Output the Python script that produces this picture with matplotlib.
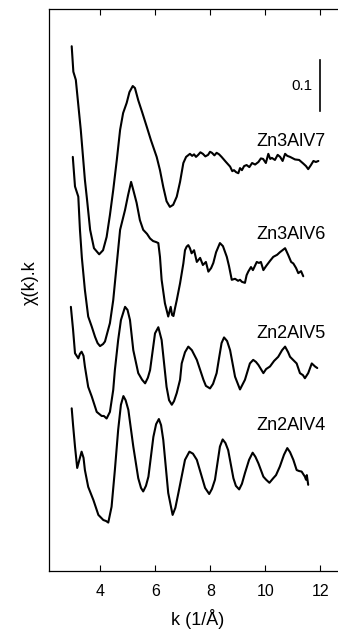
import numpy as np
import matplotlib
matplotlib.use('Agg')
import matplotlib.pyplot as plt

plt.rcParams['font.family'] = ['Liberation Sans', 'DejaVu Sans']

# k (1/A) and chi(k).k for each sample (relative to each trace's baseline)
k_v7 = [2.96, 3.02, 3.11, 3.29, 3.44, 3.52, 3.63, 3.77, 3.96, 4.10, 4.23, 4.35, 4.47, 4.60,
        4.72, 4.83, 4.96, 5.06, 5.18, 5.26, 5.38, 5.52, 5.69, 5.84, 6.05, 6.17, 6.29, 6.41,
        6.53, 6.65, 6.78, 6.90, 7.02, 7.12, 7.26, 7.34, 7.41, 7.48, 7.56, 7.64, 7.73, 7.82,
        7.92, 7.99, 8.06, 8.15, 8.23, 8.32, 8.41, 8.57, 8.72, 8.80, 8.86, 8.94, 9.02, 9.08,
        9.15, 9.23, 9.32, 9.42, 9.52, 9.63, 9.75, 9.84, 9.92, 10.02, 10.11, 10.18, 10.24,
        10.35, 10.45, 10.54, 10.63, 10.72, 10.80, 10.90, 11.08, 11.23, 11.38, 11.48, 11.56,
        11.66, 11.75, 11.84, 11.93]
chi_v7 = [0.233, 0.183, 0.167, 0.069, -0.029, -0.069, -0.127, -0.163, -0.175, -0.167, -0.141,
          -0.098, -0.049, 0.010, 0.069, 0.102, 0.122, 0.143, 0.155, 0.151, 0.127, 0.104, 0.075,
          0.049, 0.016, -0.010, -0.043, -0.071, -0.082, -0.078, -0.062, -0.033, 0.004, 0.016,
          0.022, 0.018, 0.021, 0.016, 0.020, 0.025, 0.022, 0.017, 0.020, 0.026, 0.024, 0.019,
          0.024, 0.021, 0.016, 0.006, -0.003, -0.012, -0.010, -0.014, -0.016, -0.006, -0.010,
          -0.002, 0.000, -0.004, 0.004, 0.001, 0.006, 0.013, 0.012, 0.004, 0.022, 0.012, 0.014,
          0.010, 0.020, 0.016, 0.008, 0.022, 0.018, 0.016, 0.011, 0.010, 0.003, -0.002, -0.008,
          0.000, 0.008, 0.006, 0.008]

k_v6 = [3.00, 3.08, 3.20, 3.26, 3.33, 3.44, 3.56, 3.69, 3.81, 3.90, 3.99, 4.10, 4.17, 4.35,
        4.47, 4.60, 4.72, 4.90, 5.01, 5.12, 5.20, 5.32, 5.44, 5.56, 5.70, 5.81, 5.92, 6.03,
        6.11, 6.17, 6.23, 6.35, 6.47, 6.56, 6.61, 6.66, 6.72, 6.78, 6.90, 7.02, 7.08, 7.14,
        7.20, 7.26, 7.32, 7.41, 7.51, 7.63, 7.73, 7.84, 7.93, 8.03, 8.11, 8.21, 8.35, 8.46,
        8.60, 8.68, 8.78, 8.90, 9.01, 9.08, 9.15, 9.26, 9.32, 9.38, 9.48, 9.55, 9.69, 9.77,
        9.84, 9.93, 10.03, 10.17, 10.29, 10.43, 10.53, 10.72, 10.83, 10.94, 11.02, 11.12,
        11.20, 11.30, 11.38]
chi_v6 = [0.212, 0.154, 0.134, 0.069, 0.014, -0.049, -0.101, -0.121, -0.141, -0.153, -0.159,
          -0.155, -0.150, -0.114, -0.069, 0.003, 0.069, 0.108, 0.137, 0.163, 0.147, 0.122,
          0.088, 0.069, 0.061, 0.052, 0.047, 0.045, 0.043, 0.016, -0.029, -0.075, -0.101,
          -0.082, -0.098, -0.100, -0.084, -0.069, -0.036, 0.003, 0.029, 0.036, 0.039, 0.033,
          0.023, 0.029, 0.006, 0.014, 0.000, 0.006, -0.013, -0.006, 0.004, 0.025, 0.043, 0.037,
          0.016, -0.002, -0.029, -0.027, -0.031, -0.029, -0.033, -0.035, -0.020, -0.013, -0.004,
          -0.010, 0.006, 0.004, 0.006, -0.010, -0.002, 0.008, 0.016, 0.020, 0.025, 0.033, 0.020,
          0.006, 0.003, -0.006, -0.016, -0.012, -0.022]

k_v5 = [2.93, 3.01, 3.08, 3.20, 3.26, 3.32, 3.39, 3.44, 3.56, 3.69, 3.87, 4.05, 4.13, 4.23,
        4.35, 4.47, 4.53, 4.65, 4.75, 4.90, 4.99, 5.08, 5.20, 5.38, 5.52, 5.63, 5.73, 5.81,
        5.99, 6.11, 6.23, 6.41, 6.50, 6.60, 6.68, 6.78, 6.90, 6.96, 7.08, 7.20, 7.33, 7.51,
        7.75, 7.84, 7.99, 8.10, 8.23, 8.32, 8.41, 8.50, 8.61, 8.72, 8.90, 9.08, 9.26, 9.44,
        9.56, 9.66, 9.75, 9.93, 10.03, 10.17, 10.32, 10.47, 10.61, 10.72, 10.83, 10.90, 11.01,
        11.14, 11.26, 11.37, 11.44, 11.56, 11.69, 11.81, 11.89]
chi_v5 = [0.114, 0.069, 0.023, 0.013, 0.022, 0.026, 0.018, -0.003, -0.043, -0.062, -0.092,
          -0.100, -0.100, -0.105, -0.092, -0.049, -0.010, 0.049, 0.088, 0.114, 0.108, 0.088,
          0.029, -0.016, -0.029, -0.036, -0.025, -0.010, 0.062, 0.074, 0.049, -0.043, -0.069,
          -0.078, -0.071, -0.055, -0.029, 0.003, 0.025, 0.036, 0.029, 0.010, -0.029, -0.041,
          -0.046, -0.037, -0.016, 0.014, 0.043, 0.054, 0.047, 0.029, -0.023, -0.048, -0.029,
          0.003, 0.010, 0.006, 0.000, -0.016, -0.008, -0.003, 0.008, 0.016, 0.029, 0.036, 0.025,
          0.016, 0.010, 0.003, -0.016, -0.020, -0.026, -0.016, 0.003, -0.003, -0.006]

k_v4 = [2.96, 3.01, 3.08, 3.16, 3.24, 3.32, 3.39, 3.44, 3.56, 3.75, 3.93, 4.11, 4.21, 4.29,
        4.41, 4.53, 4.65, 4.75, 4.84, 4.92, 5.02, 5.20, 5.38, 5.48, 5.56, 5.66, 5.75, 5.93,
        6.03, 6.13, 6.21, 6.29, 6.47, 6.63, 6.73, 6.84, 7.08, 7.24, 7.37, 7.51, 7.69, 7.81,
        7.96, 8.06, 8.17, 8.35, 8.45, 8.55, 8.65, 8.84, 8.93, 9.05, 9.15, 9.26, 9.41, 9.54,
        9.64, 9.75, 9.93, 10.03, 10.15, 10.29, 10.39, 10.53, 10.68, 10.80, 10.90, 11.02, 11.14,
        11.23, 11.32, 11.44, 11.48, 11.51, 11.56]
chi_v4 = [0.111, 0.078, 0.036, -0.006, 0.010, 0.026, 0.014, -0.010, -0.043, -0.069, -0.098,
          -0.108, -0.110, -0.113, -0.082, -0.010, 0.069, 0.118, 0.135, 0.127, 0.108, 0.036,
          -0.026, -0.045, -0.052, -0.041, -0.023, 0.055, 0.080, 0.090, 0.078, 0.049, -0.055,
          -0.098, -0.084, -0.055, 0.010, 0.026, 0.022, 0.010, -0.023, -0.045, -0.057, -0.047,
          -0.029, 0.036, 0.050, 0.043, 0.029, -0.026, -0.041, -0.048, -0.037, -0.016, 0.010,
          0.024, 0.016, 0.003, -0.023, -0.029, -0.035, -0.026, -0.020, -0.003, 0.020, 0.033,
          0.025, 0.010, -0.010, -0.012, -0.013, -0.023, -0.029, -0.020, -0.039]

labels = ['Zn3AlV7', 'Zn3AlV6', 'Zn2AlV5', 'Zn2AlV4']
offsets = [0.796, 0.600, 0.404, 0.208]
label_y = [0.842, 0.659, 0.466, 0.286]

fig = plt.figure(figsize=(3.38, 6.29), dpi=100)
ax = fig.add_axes([0.145, 0.0922, 0.87, 0.8935])

curves = [(k_v7, chi_v7), (k_v6, chi_v6), (k_v5, chi_v5), (k_v4, chi_v4)]
for (k, chi), off, name, ly in zip(curves, offsets, labels, label_y):
    ax.plot(k, np.array(chi) + off, color='black', lw=1.5,
            solid_joinstyle='round', solid_capstyle='round')
    ax.text(10.92, ly, name, ha='center', va='center', fontsize=13)

# scale bar
ax.plot([11.99, 11.99], [0.902, 1.002], color='black', lw=1.2)
ax.text(11.32, 0.951, '0.1', ha='center', va='center', fontsize=11)

ax.set_xlim(2.135, 2.135 + 0.87 * 338 / 27.5)
ax.set_ylim(0, 1.102)
ax.set_xticks([4, 6, 8, 10, 12])
ax.set_yticks([])
ax.tick_params(axis='x', direction='in', top=True, length=4, width=0.8, pad=9, labelsize=11.5)
for s in ax.spines.values():
    s.set_linewidth(0.9)

fig.text(197.3 / 338, 1 - 619 / 629, 'k (1/Å)', ha='center', va='center', fontsize=13)
fig.text(30 / 338, 1 - 283 / 629, 'χ(k).k', ha='center', va='center', rotation=90, fontsize=13)

plt.savefig('out.png', dpi=100)
